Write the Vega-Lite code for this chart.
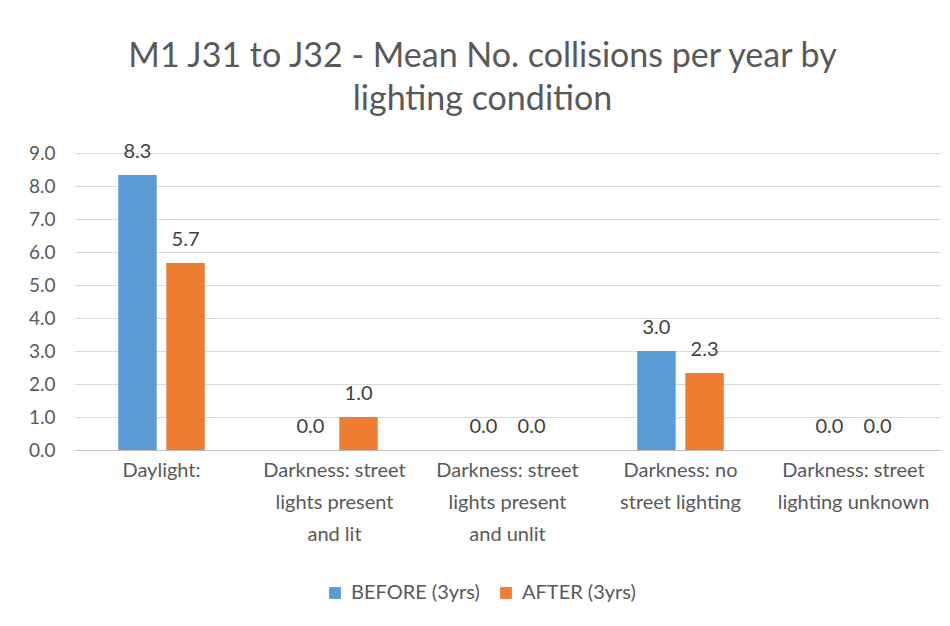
{
  "$schema": "https://vega.github.io/schema/vega-lite/v6.json",
  "width": 865,
  "height": 297,
  "autosize": {"type": "none"},
  "padding": {"left": 75, "top": 153, "right": 10, "bottom": 176},
  "background": "white",
  "title": {
    "text": ["M1 J31 to J32 - Mean No. collisions per year by", "lighting condition"],
    "anchor": "middle",
    "dx": -25,
    "offset": 25,
    "font": "Lato",
    "fontSize": 34,
    "fontWeight": "normal",
    "color": "#595959",
    "lineHeight": 43
  },
  "data": {
    "values": [
      {"condition": "Daylight:", "period": "BEFORE (3yrs)", "value": 8.33},
      {"condition": "Daylight:", "period": "AFTER (3yrs)", "value": 5.67},
      {"condition": "Darkness: street lights present and lit", "period": "BEFORE (3yrs)", "value": 0},
      {"condition": "Darkness: street lights present and lit", "period": "AFTER (3yrs)", "value": 1.0},
      {"condition": "Darkness: street lights present and unlit", "period": "BEFORE (3yrs)", "value": 0},
      {"condition": "Darkness: street lights present and unlit", "period": "AFTER (3yrs)", "value": 0},
      {"condition": "Darkness: no street lighting", "period": "BEFORE (3yrs)", "value": 3.0},
      {"condition": "Darkness: no street lighting", "period": "AFTER (3yrs)", "value": 2.33},
      {"condition": "Darkness: street lighting unknown", "period": "BEFORE (3yrs)", "value": 0},
      {"condition": "Darkness: street lighting unknown", "period": "AFTER (3yrs)", "value": 0}
    ]
  },
  "encoding": {
    "x": {
      "field": "condition",
      "type": "nominal",
      "sort": null,
      "title": null,
      "scale": {"paddingInner": 0.5, "paddingOuter": 0.25},
      "axis": {
        "labelAngle": 0,
        "ticks": false,
        "domainColor": "#bfbfbf",
        "domainWidth": 1,
        "labelPadding": 10,
        "labelFont": "Lato",
        "labelFontSize": 20,
        "labelColor": "#595959",
        "labelLineHeight": 32,
        "labelBaseline": "top",
        "labelLimit": 200,
        "labelExpr": "datum.label == 'Darkness: street lights present and lit' ? ['Darkness: street', 'lights present', 'and lit'] : datum.label == 'Darkness: street lights present and unlit' ? ['Darkness: street', 'lights present', 'and unlit'] : datum.label == 'Darkness: no street lighting' ? ['Darkness: no', 'street lighting'] : datum.label == 'Darkness: street lighting unknown' ? ['Darkness: street', 'lighting unknown'] : datum.label"
      }
    },
    "xOffset": {
      "field": "period",
      "type": "nominal",
      "sort": ["BEFORE (3yrs)", "AFTER (3yrs)"],
      "scale": {"paddingInner": 0.2, "paddingOuter": 0}
    },
    "y": {
      "field": "value",
      "type": "quantitative",
      "title": null,
      "scale": {"domain": [0, 9]},
      "axis": {
        "values": [0, 1, 2, 3, 4, 5, 6, 7, 8, 9],
        "format": ".1f",
        "domain": false,
        "ticks": false,
        "gridColor": "#d9d9d9",
        "gridWidth": 1,
        "labelPadding": 20,
        "labelFont": "Lato",
        "labelFontSize": 19,
        "labelColor": "#595959"
      }
    },
    "color": {
      "field": "period",
      "type": "nominal",
      "sort": ["BEFORE (3yrs)", "AFTER (3yrs)"],
      "scale": {"domain": ["BEFORE (3yrs)", "AFTER (3yrs)"], "range": ["#5b9bd5", "#ed7d31"]},
      "legend": {
        "title": null,
        "orient": "none",
        "direction": "horizontal",
        "legendX": 250,
        "legendY": 430,
        "symbolType": "square",
        "symbolSize": 140,
        "symbolStrokeWidth": 0,
        "labelFont": "Lato",
        "labelFontSize": 20,
        "labelColor": "#595959",
        "columnPadding": 16,
        "labelOffset": 6
      }
    }
  },
  "layer": [
    {"mark": {"type": "bar"}},
    {
      "mark": {"type": "text", "dy": -13, "baseline": "bottom", "font": "Lato", "fontSize": 20, "color": "#404040"},
      "encoding": {
        "text": {"field": "value", "type": "quantitative", "format": ".1f"},
        "color": {"value": "#404040"}
      }
    }
  ],
  "config": {
    "view": {"stroke": null}
  }
}
